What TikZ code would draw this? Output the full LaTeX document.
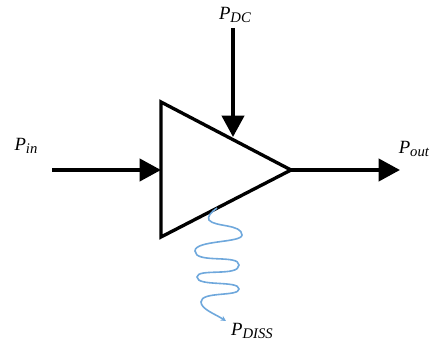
\documentclass[tikz,border=0pt]{standalone}
\usepackage{fontspec}
\setmainfont{Liberation Serif}
\usetikzlibrary{arrows.meta}
\definecolor{wave}{HTML}{6FA8DC}
\newcommand{\powlab}[2]{\textit{P}\raisebox{-2.6pt}{\fontsize{#2}{12}\selectfont\textit{#1}}}
\tikzset{
  px/.style={x=0.75pt,y=-0.75pt},
  amp/.style={draw=black,line width=2.5pt,line join=miter},
  flow/.style={draw=black,line width=3pt,-{Triangle[length=16pt,width=16.5pt]},shorten >=0pt},
  heat/.style={draw=wave,line width=1.2pt,-{Stealth[length=4pt,width=4pt]}},
  lab/.style={inner sep=0pt,font=\fontsize{14}{16}\selectfont}
}
\begin{document}
\begin{tikzpicture}[px]
\useasboundingbox (0,0) rectangle (435,345);
\coordinate (a) at (161,102);
\coordinate (b) at (161,237);
\coordinate (tip) at (291,170);
\coordinate (inS) at (52,170);
\coordinate (inE) at (161,170);
\coordinate (dcS) at (233,28);
\coordinate (dcE) at (233,137);
\coordinate (outE) at (400,170);
\coordinate (hS) at (217,208);
\coordinate (hE) at (226,321);
\draw[amp] (a) -- (b) -- (tip) -- cycle;
\draw[flow] (inS) -- (inE);
\draw[flow] (dcS) -- (dcE);
\draw[flow] (tip) -- (outE);
\draw[heat] (hS) .. controls (211,212) and (207,217) .. (209,220)
  .. controls (214,227) and (242,224) .. (242,235)
  .. controls (242,243) and (195,240) .. (195,251)
  .. controls (195,264) and (239,254) .. (239,265)
  .. controls (239,277) and (197,268) .. (197,277)
  .. controls (197,287) and (239,280) .. (239,289)
  .. controls (239,297) and (201,291) .. (201,302)
  .. controls (201,309) and (215,314) .. (hE);
\node[lab] (pin) at (26,146) {\powlab{in}{11}};
\node[lab] (pdc) at (235,15) {\powlab{DC}{11}};
\node[lab] (pout) at (414,149) {\powlab{out}{11}};
\node[lab] (pdiss) at (252,331) {\powlab{DISS}{11}};
\end{tikzpicture}
\end{document}
